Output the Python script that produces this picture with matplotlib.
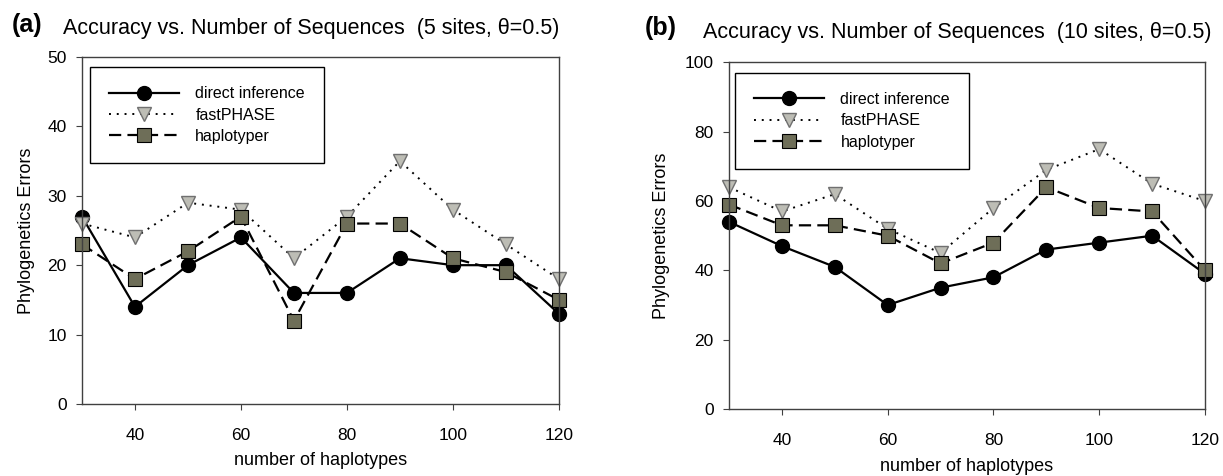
import matplotlib
matplotlib.use('Agg')
import matplotlib.pyplot as plt

plt.rcParams['font.family'] = ['Liberation Sans', 'DejaVu Sans']

# data
haplotypes = [30, 40, 50, 60, 70, 80, 90, 100, 110, 120]

direct_5 = [27, 14, 20, 24, 16, 16, 21, 20, 20, 13]
fastphase_5 = [26, 24, 29, 28, 21, 27, 35, 28, 23, 18]
haplotyper_5 = [23, 18, 22, 27, 12, 26, 26, 21, 19, 15]

direct_10 = [54, 47, 41, 30, 35, 38, 46, 48, 50, 39]
fastphase_10 = [64, 57, 62, 52, 45, 58, 69, 75, 65, 60]
haplotyper_10 = [59, 53, 53, 50, 42, 48, 64, 58, 57, 40]

x_ticks = [40, 60, 80, 100, 120]
labels = ['direct inference', 'fastPHASE', 'haplotyper']

fig = plt.figure(figsize=(12.23, 4.76), dpi=100)
ax1 = fig.add_axes([0.0670, 0.1513, 0.390, 0.729])
ax2 = fig.add_axes([0.5961, 0.1408, 0.3892, 0.728])


def draw(ax, direct, fast, hap, ymax, yticks, leg_anchor, ylab_x, xlab_y):
    ax.plot(haplotypes, direct, '-', color='black', lw=1.6,
            marker='o', ms=10, mfc='black', mec='black', label=labels[0])
    ax.plot(haplotypes, fast, color='black', lw=1.4, dashes=(1, 3),
            marker='v', ms=10, mfc='#bdbdb5', mec='#707070', label=labels[1])
    ax.plot(haplotypes, hap, color='black', lw=1.6, dashes=(5.5, 2.8),
            marker='s', ms=9.5, mfc='#6e6e58', mec='black', mew=0.8,
            label=labels[2])
    ax.set_xlim(30, 120)
    ax.set_ylim(0, ymax)
    ax.set_xticks(x_ticks)
    ax.set_yticks(yticks)
    ax.tick_params(labelsize=12.5, direction='out', length=4, color='#404040')
    ax.tick_params(axis='x', pad=13.5)
    ax.tick_params(axis='y', pad=7)
    for s in ax.spines.values():
        s.set_color('#404040')
        s.set_linewidth(1.0)
    ax.set_xlabel('number of haplotypes', fontsize=13, va='center')
    ax.set_ylabel('Phylogenetics Errors', fontsize=13, va='center')
    ax.xaxis.set_label_coords(0.5, xlab_y)
    ax.yaxis.set_label_coords(ylab_x, 0.5)
    for line in ax.get_lines():
        line.set_clip_on(False)
    leg = ax.legend(loc='upper left', bbox_to_anchor=leg_anchor,
                    fontsize=11.5, frameon=True, fancybox=False,
                    edgecolor='black', framealpha=1, handlelength=4.4,
                    borderpad=1.2, labelspacing=0.4, handletextpad=1.0,
                    borderaxespad=0)
    leg.get_frame().set_linewidth(1.0)


draw(ax1, direct_5, fastphase_5, haplotyper_5, 50, [0, 10, 20, 30, 40, 50],
     (0.0168, 0.971), -0.117, -0.164)
draw(ax2, direct_10, fastphase_10, haplotyper_10, 100, [0, 20, 40, 60, 80, 100],
     (0.0126, 0.970), -0.141, -0.167)

fig.text(0.0098, 0.947, '(a)', fontsize=18, fontweight='bold', va='center')
fig.text(0.0515, 0.941, 'Accuracy vs. Number of Sequences  (5 sites, \u03b8=0.5)',
         fontsize=15.5, va='center')
fig.text(0.527, 0.941, '(b)', fontsize=18, fontweight='bold', va='center')
fig.text(0.5748, 0.931, 'Accuracy vs. Number of Sequences  (10 sites, \u03b8=0.5)',
         fontsize=15.5, va='center')

fig.savefig('out.png', dpi=100)
